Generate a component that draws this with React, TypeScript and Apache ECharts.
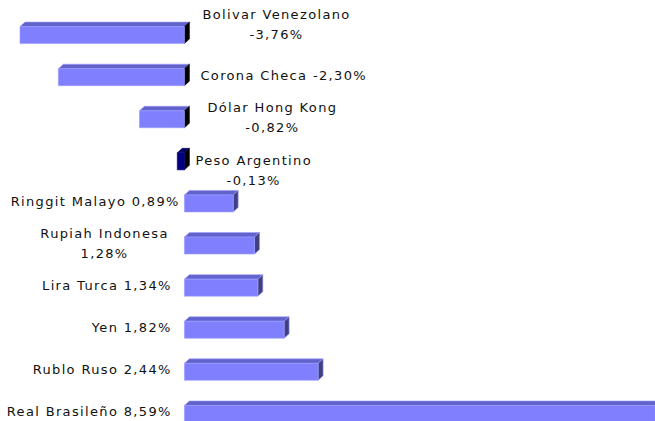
import React, { useEffect, useRef } from "react";
import * as echarts from "echarts";

const currencies = [
  "Bolivar Venezolano",
  "Corona Checa",
  "Dólar Hong Kong",
  "Peso Argentino",
  "Ringgit Malayo",
  "Rupiah Indonesa",
  "Lira Turca",
  "Yen",
  "Rublo Ruso",
  "Real Brasileño",
];
const changes = [-3.76, -2.3, -0.82, -0.13, 0.89, 1.28, 1.34, 1.82, 2.44, 8.59];
const wrapLabel = [true, false, true, true, false, true, false, false, false, false];
const highlighted = "Peso Argentino";

const X_MIN = -3;
const X_MAX = 9;
const FONT_SIZE = 13;
const FONT_FAMILY = '"DejaVu Sans"';
const LETTER_SPACING = 1.35;
const LINE_HEIGHT = 20;

// hand-placed label nudges (pixels) as in the original chart
const labelNudge: Record<string, [number, number]> = {
  "Bolivar Venezolano": [2, -9],
  "Dólar Hong Kong": [7, 0],
  "Peso Argentino": [-5, 11],
  "Ringgit Malayo": [8, 0],
  "Rupiah Indonesa": [-3, 0],
};

function fmt(v: number) {
  return v.toFixed(2).replace(".", ",") + "%";
}

function labelLines(i: number) {
  return wrapLabel[i]
    ? [currencies[i], fmt(changes[i])]
    : [currencies[i] + " " + fmt(changes[i])];
}

let measureCtx: CanvasRenderingContext2D | null = null;
function measure(text: string) {
  if (!measureCtx) {
    const c = document.createElement("canvas");
    measureCtx = c.getContext("2d");
  }
  if (!measureCtx) return text.length * 8;
  measureCtx.font = `${FONT_SIZE}px ${FONT_FAMILY}`;
  return measureCtx.measureText(text).width + LETTER_SPACING * (text.length - 1);
}

export default function App() {
  const ref = useRef<HTMLDivElement>(null);

  useEffect(() => {
    if (!ref.current) return;
    const chart = echarts.init(ref.current, undefined, { renderer: "svg" });

    const data = changes.map((v, i) => [v, i]);

    const renderBar = (params: any, api: any) => {
      const i = params.dataIndex;
      const v = api.value(0);
      const cat = api.value(1);
      const vc = Math.max(Math.min(v, X_MAX), X_MIN);
      const p0 = api.coord([0, cat]);
      const p1 = api.coord([vc, cat]);
      const h = 17;
      const dx = 5;
      const dy = 4.5;
      const yc = p0[1];
      const xl = Math.min(p0[0], p1[0]);
      const xr = Math.max(p0[0], p1[0]);
      const top = yc - h / 2;
      const bot = yc + h / 2;
      const isHi = currencies[i] === highlighted;
      const neg = v < 0;
      const front = isHi ? "#000080" : "#8080FF";
      const topC = isHi ? "#000066" : "#6262CC";
      const sideC = neg ? "#000000" : "#40407F";
      return {
        type: "group",
        children: [
          {
            type: "polygon",
            shape: { points: [[xl, top], [xl + dx, top - dy], [xr + dx, top - dy], [xr, top]] },
            style: { fill: topC, stroke: isHi ? "#000066" : "#9c9cff", lineWidth: 0.6 },
          },
          {
            type: "polygon",
            shape: { points: [[xr, top], [xr + dx, top - dy], [xr + dx, bot - dy], [xr, bot]] },
            style: { fill: sideC, stroke: isHi || neg ? "#000000" : "#9c9cff", lineWidth: 0.6 },
          },
          {
            type: "rect",
            shape: { x: xl, y: top, width: xr - xl, height: h },
            style: { fill: front, stroke: isHi ? "#000080" : "#9c9cff", lineWidth: 0.6 },
          },
        ],
      };
    };

    const renderLabel = (params: any, api: any) => {
      const i = params.dataIndex;
      const v = api.value(0);
      const cat = api.value(1);
      const p0 = api.coord([0, cat]);
      const lines = labelLines(i);
      const widths = lines.map(measure);
      const maxW = Math.max(...widths);
      const nudge = labelNudge[currencies[i]] || [0, 0];
      const blockLeft = v < 0 ? p0[0] + 16 + nudge[0] : p0[0] - 14 - maxW + nudge[0];
      const yc = p0[1] - 2 + nudge[1];
      const n = lines.length;
      const children = lines.map((line, j) => ({
        type: "text",
        x: blockLeft + (maxW - widths[j]) / 2,
        y: yc + (j - (n - 1) / 2) * LINE_HEIGHT,
        style: {
          text: line,
          fill: "#111111",
          fontSize: FONT_SIZE,
          fontFamily: FONT_FAMILY,
          align: "left",
          verticalAlign: "middle",
        },
      }));
      return { type: "group", children };
    };

    chart.setOption({
      animation: false,
      backgroundColor: "#ffffff",
      grid: { left: 20, top: 14, width: 657.6, height: 421, containLabel: false, outerBoundsMode: "none" },
      xAxis: {
        type: "value",
        min: X_MIN,
        max: X_MAX,
        show: false,
        splitLine: { show: false },
      },
      yAxis: {
        type: "category",
        data: currencies,
        inverse: true,
        show: false,
      },
      series: [
        {
          type: "custom",
          renderItem: renderBar,
          data,
          encode: { x: 0, y: 1 },
          clip: false,
          z: 2,
        },
        {
          type: "custom",
          renderItem: renderLabel,
          data,
          encode: { x: 0, y: 1 },
          clip: false,
          z: 3,
        },
      ],
    });

    return () => chart.dispose();
  }, []);

  return (
    <>
      <style>{`.fx-chart text { letter-spacing: ${LETTER_SPACING}px; }`}</style>
      <div
        style={{ position: "absolute", left: 0, top: 0, width: 655, height: 421, overflow: "hidden", background: "#fff" }}
      >
        <div ref={ref} className="fx-chart" style={{ width: 700, height: 450 }} />
      </div>
    </>
  );
}
